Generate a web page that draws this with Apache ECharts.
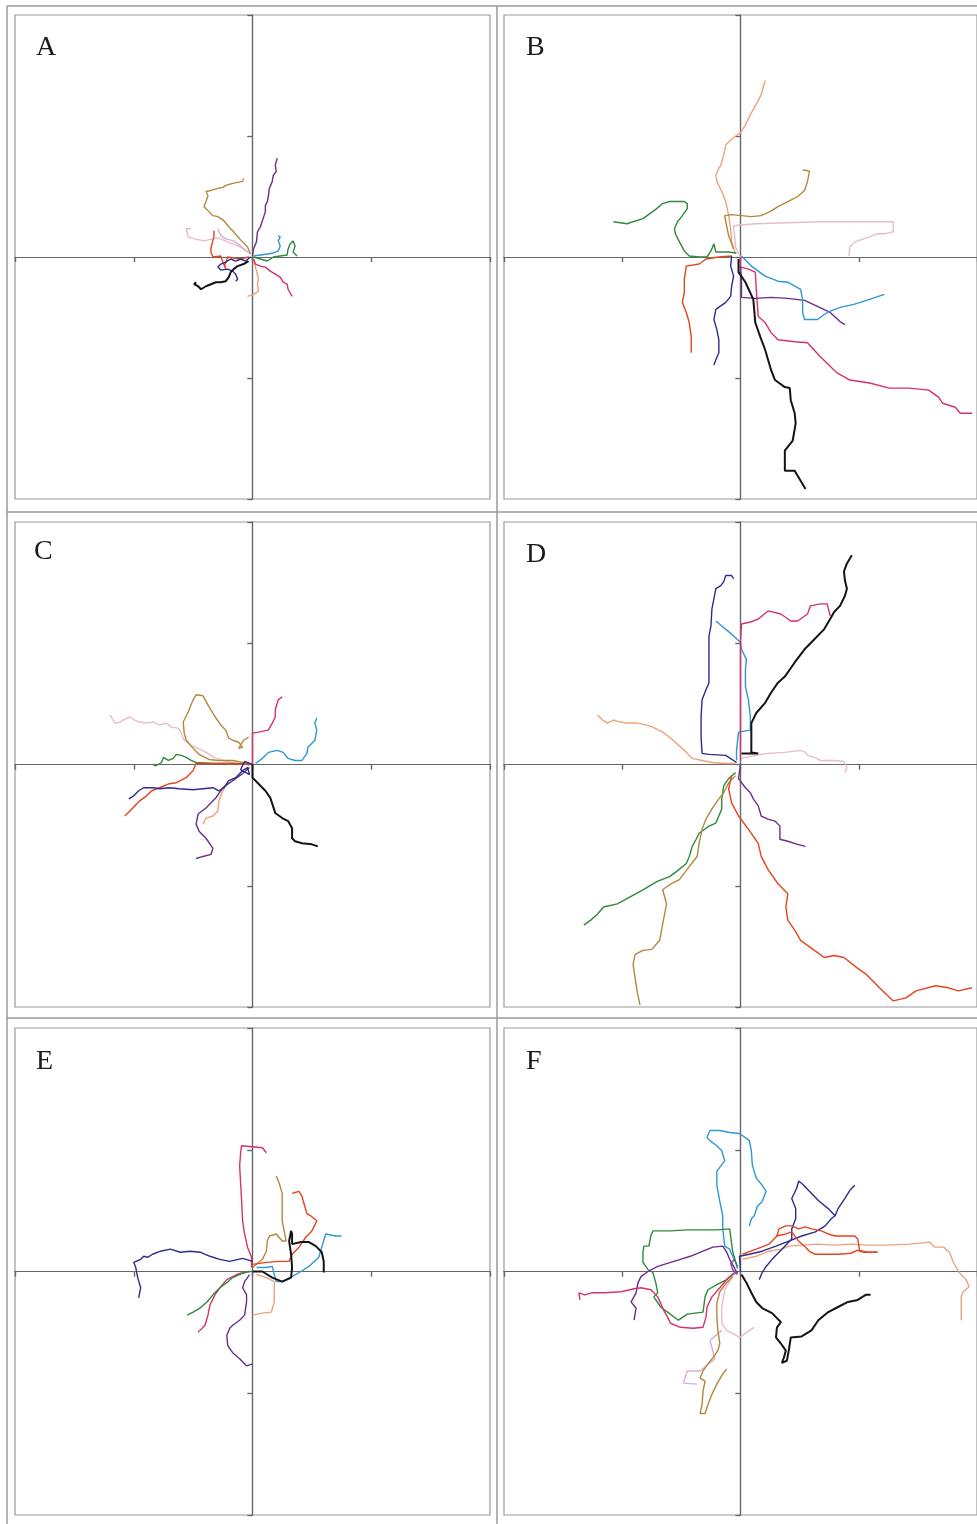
<!DOCTYPE html>
<html>
<head>
<meta charset="utf-8">
<script src="https://cdn.jsdelivr.net/npm/echarts@6/dist/echarts.min.js"></script>
<style>
html,body{margin:0;padding:0;background:#fff;}
#chart{width:977px;height:1524px;}
</style>
</head>
<body>
<div id="chart"></div>
<script>
// ---- Panel labels ----
const panelLabels = ['A', 'B', 'C', 'D', 'E', 'F'];
// axis range (same reading units on both axes), ticks every 120
const axisMin = -240, axisMax = 240, axisStep = 120;

// ---- Panel A tracks ----
const A_tan = [[-2,3],[-5,10],[-10,15],[-15,20],[-19,25],[-24,30],[-29,36],[-35,40],[-40,41],[-45,46],[-49,50],[-47,55],[-45,61],[-47,65],[-42,66],[-35,68],[-30,69],[-27,71],[-20,73],[-15,74],[-10,75],[-9,78]];
const A_purple = [[0,1],[1,8],[4,15],[5,25],[8,30],[10,36],[13,45],[13,51],[15,55],[16,60],[17,68],[20,75],[21,81],[24,85],[23,91],[25,98]];
const A_pink = [[-62,28],[-67,28],[-65,20],[-59,18],[-49,16],[-40,18],[-35,19],[-25,15],[-15,11],[-9,8],[-2,3]];
const A_lavender = [[-35,28],[-32,21],[-27,18],[-19,16],[-12,11],[-5,5]];
const A_red = [[-4,0],[-12,-2],[-19,-1],[-25,0],[-28,-8],[-27,-12],[-30,-5],[-32,1],[-40,0],[-42,5],[-42,8],[-41,13],[-39,20],[-39,26]];
const A_navy = [[-2,0],[-7,-4],[-12,-2],[-17,-4],[-22,-2],[-27,-5],[-32,-7],[-35,-10],[-32,-13],[-25,-12],[-20,-14],[-17,-17],[-15,-22],[-17,-24]];
const A_black = [[-4,-4],[-9,-7],[-15,-9],[-19,-12],[-22,-15],[-24,-20],[-27,-24],[-32,-25],[-37,-25],[-42,-27],[-47,-29],[-52,-32],[-55,-29],[-59,-27],[-57,-25]];
const A_blue = [[1,1],[8,2],[15,3],[21,4],[26,6],[28,11],[26,16],[28,20],[26,21]];
const A_green = [[1,0],[8,-2],[15,-4],[21,0],[28,1],[35,2],[36,8],[38,13],[41,16],[43,11],[41,5],[45,1]];
const A_magenta = [[1,-2],[3,-7],[8,-9],[13,-10],[18,-14],[23,-17],[28,-20],[31,-25],[35,-27],[36,-32],[40,-39]];
const A_peach = [[1,-4],[3,-10],[5,-17],[6,-22],[5,-27],[6,-34],[1,-37],[-5,-39]];

// ---- Panel B tracks ----
const B_peach = [[-5,3],[-9,15],[-10,28],[-12,41],[-15,55],[-19,65],[-24,75],[-25,81],[-22,88],[-20,91],[-17,101],[-15,111],[-10,116],[-5,120],[0,123],[5,131],[11,143],[18,155],[21,161],[25,175]];
const B_tan = [[-7,8],[-12,21],[-15,35],[-16,41],[-9,42],[1,41],[11,40],[21,41],[30,45],[38,50],[48,55],[58,60],[65,66],[68,75],[70,85],[66,86],[63,86]];
const B_pink = [[0,0],[-5,10],[-7,31],[15,33],[48,34],[81,35],[115,35],[138,35],[155,35],[155,25],[146,23],[138,23],[131,20],[125,18],[116,15],[111,10],[110,1]];
const B_green = [[-4,4],[-12,5],[-19,5],[-25,5],[-27,13],[-30,6],[-34,0],[-42,0],[-52,1],[-57,6],[-62,15],[-66,23],[-67,28],[-64,35],[-59,41],[-54,48],[-54,53],[-57,55],[-64,55],[-72,55],[-79,53],[-85,48],[-92,43],[-99,38],[-109,35],[-115,33],[-122,34],[-129,35]];
const B_red = [[-9,1],[-22,0],[-35,-2],[-42,-7],[-55,-9],[-57,-22],[-57,-35],[-59,-45],[-55,-55],[-52,-65],[-50,-79],[-50,-95]];
const B_navy = [[-9,1],[-10,-9],[-7,-19],[-9,-29],[-10,-39],[-15,-45],[-25,-52],[-27,-62],[-24,-72],[-22,-82],[-22,-95],[-25,-102],[-27,-107]];
const B_black = [[-2,-2],[-2,-15],[5,-25],[13,-42],[15,-65],[20,-79],[25,-92],[31,-112],[35,-122],[45,-129],[50,-130],[51,-142],[55,-155],[56,-165],[53,-182],[45,-192],[45,-212],[55,-212],[61,-222],[66,-230]];
const B_magenta = [[0,0],[0,-10],[8,-12],[15,-15],[16,-32],[18,-59],[25,-65],[31,-75],[38,-82],[55,-84],[68,-85],[81,-99],[98,-115],[111,-122],[131,-125],[151,-130],[171,-130],[191,-132],[201,-139],[205,-145],[218,-149],[223,-155],[235,-155]];
const B_purple = [[0,-9],[1,-25],[1,-40],[15,-41],[31,-40],[48,-41],[65,-43],[78,-49],[91,-55],[101,-64],[106,-67]];
const B_blue = [[1,1],[11,-9],[25,-19],[38,-24],[48,-25],[61,-32],[63,-42],[63,-55],[65,-62],[78,-62],[88,-55],[101,-50],[115,-47],[131,-42],[146,-37]];

// ---- Panel C tracks ----
const C_pink = [[-144,49],[-139,41],[-134,42],[-129,45],[-124,47],[-119,44],[-114,42],[-107,41],[-100,42],[-94,39],[-87,41],[-82,37],[-75,36],[-72,31],[-69,24],[-62,19],[-55,16],[-47,12],[-39,7],[-30,4],[-17,1],[-5,1]];
const C_tan = [[-4,1],[-10,2],[-20,4],[-34,4],[-44,5],[-54,10],[-60,16],[-67,24],[-69,31],[-70,42],[-65,52],[-60,64],[-57,69],[-50,68],[-45,59],[-39,49],[-32,39],[-27,34],[-24,26],[-20,24],[-14,22],[-10,17],[-14,16],[-9,24],[-4,27]];
const C_magenta = [[0,1],[0,17],[0,31],[6,32],[16,34],[20,41],[23,47],[23,54],[25,61],[26,64],[30,67]];
const C_blue = [[3,1],[10,6],[16,12],[25,14],[31,12],[36,6],[43,4],[50,4],[55,11],[56,17],[63,24],[65,34],[63,41],[65,46]];
const C_green = [[-3,0],[-17,1],[-40,1],[-57,2],[-62,4],[-67,7],[-72,9],[-77,10],[-80,6],[-85,4],[-90,7],[-92,2],[-97,-1],[-100,-1]];
const C_red = [[-3,0],[-30,1],[-57,1],[-60,-6],[-67,-13],[-77,-18],[-84,-19],[-94,-23],[-102,-26],[-107,-31],[-114,-36],[-119,-41],[-124,-46],[-129,-51]];
const C_navy = [[0,0],[-8,3],[-12,-5],[-3,-10],[-5,-3],[-10,-6],[-17,-13],[-24,-16],[-29,-23],[-34,-26],[-40,-23],[-50,-24],[-60,-25],[-74,-24],[-84,-23],[-94,-24],[-100,-23],[-110,-23],[-115,-26],[-120,-31],[-125,-34]];
const C_purple = [[-3,-3],[-10,-9],[-20,-16],[-30,-23],[-37,-33],[-47,-43],[-55,-49],[-57,-59],[-54,-66],[-47,-73],[-40,-83],[-42,-89],[-50,-91],[-57,-93]];
const C_peach = [[-24,-16],[-30,-26],[-34,-36],[-35,-46],[-40,-51],[-47,-53],[-50,-59]];
const C_black = [[0,0],[0,-13],[6,-19],[13,-26],[18,-33],[20,-39],[23,-48],[30,-53],[36,-56],[40,-63],[40,-73],[43,-76],[50,-78],[60,-79],[66,-81]];

// ---- Panel D tracks ----
const D_navy = [[-4,2],[-15,9],[-32,10],[-39,11],[-40,27],[-40,47],[-39,64],[-35,74],[-32,81],[-32,97],[-32,114],[-32,127],[-30,137],[-29,154],[-27,164],[-25,174],[-20,177],[-17,181],[-15,187],[-9,187],[-7,184]];
const D_blue = [[-4,4],[-4,14],[-2,32],[10,34],[10,47],[8,64],[5,77],[5,94],[6,104],[1,114],[0,121],[-9,129],[-19,137],[-25,142]];
const D_magenta = [[0,4],[0,47],[0,81],[0,107],[0,121],[1,139],[10,141],[18,144],[28,152],[41,149],[51,142],[58,142],[68,149],[71,157],[81,159],[88,159],[91,147]];
const D_black = [[1,11],[18,11],[11,12],[11,27],[11,41],[16,51],[25,61],[31,71],[38,81],[45,87],[55,101],[65,114],[75,124],[85,134],[91,144],[95,151],[101,157],[106,167],[108,174],[106,182],[105,191],[108,199],[113,207]];
const D_peach = [[-145,49],[-140,44],[-135,41],[-129,44],[-122,42],[-115,41],[-105,41],[-95,39],[-89,37],[-79,32],[-72,27],[-65,21],[-57,14],[-49,6],[-39,4],[-29,2],[-15,1],[-5,1]];
const D_pink = [[1,6],[15,9],[28,11],[45,12],[61,14],[66,12],[68,9],[75,7],[81,4],[95,4],[105,3],[108,-3],[106,-8]];
const D_green = [[-5,-8],[-12,-14],[-17,-21],[-19,-34],[-19,-44],[-25,-58],[-32,-61],[-42,-68],[-45,-74],[-49,-81],[-52,-91],[-55,-98],[-65,-106],[-72,-111],[-85,-116],[-99,-124],[-112,-131],[-125,-138],[-139,-141],[-145,-148],[-152,-154],[-159,-159]];
const D_tan = [[-5,-11],[-12,-18],[-17,-28],[-22,-34],[-29,-44],[-35,-54],[-39,-64],[-42,-78],[-44,-91],[-52,-101],[-62,-114],[-72,-119],[-79,-124],[-75,-138],[-79,-158],[-82,-174],[-90,-183],[-99,-184],[-107,-188],[-109,-198],[-107,-211],[-105,-224],[-102,-238]];
const D_red = [[-9,-11],[-12,-24],[-9,-38],[-2,-51],[8,-64],[18,-78],[21,-91],[28,-104],[38,-118],[48,-128],[46,-141],[48,-154],[55,-164],[61,-174],[75,-184],[85,-191],[95,-189],[105,-191],[118,-201],[128,-208],[141,-221],[155,-234],[168,-231],[178,-224],[198,-219],[211,-221],[221,-224],[235,-221]];
const D_purple = [[0,0],[-2,-14],[5,-23],[10,-28],[13,-34],[18,-41],[21,-51],[28,-54],[35,-56],[40,-61],[40,-74],[48,-76],[58,-79],[66,-81]];

// ---- Panel E tracks ----
const E_magenta = [[-1,4],[-1,14],[-5,24],[-8,37],[-10,50],[-11,70],[-12,87],[-13,104],[-12,117],[-11,124],[0,123],[10,122],[14,117]];
const E_pink = [[-6,0],[-16,-3],[-26,-8],[-33,-16],[-38,-23],[-43,-33],[-45,-43],[-48,-53],[-55,-60]];
const E_navy = [[0,10],[-10,13],[-23,10],[-33,12],[-43,15],[-53,19],[-63,20],[-73,19],[-83,22],[-93,20],[-101,17],[-106,14],[-110,15],[-113,12],[-120,9],[-118,4],[-116,-6],[-113,-16],[-115,-26]];
const E_tan = [[0,4],[10,12],[14,20],[15,30],[17,35],[24,37],[30,30],[34,30],[32,40],[30,50],[30,64],[30,77],[27,87],[24,94]];
const E_red = [[0,7],[14,9],[27,10],[37,10],[40,17],[47,24],[54,34],[60,40],[65,50],[60,54],[55,57],[52,67],[50,74],[47,79],[40,77]];
const E_black = [[0,0],[10,0],[20,-6],[30,-10],[39,-6],[40,4],[39,17],[37,30],[39,40],[40,37],[40,27],[49,29],[57,29],[64,25],[70,19],[72,10],[72,-1]];
const E_blue = [[4,4],[14,4],[20,5],[22,-3],[24,-10],[30,-10],[40,-5],[49,0],[57,5],[67,14],[70,24],[74,37],[84,35],[90,35]];
const E_green = [[-3,0],[-11,-2],[-20,-6],[-26,-11],[-33,-16],[-40,-23],[-46,-30],[-53,-36],[-60,-40],[-66,-43]];
const E_purple = [[-3,-3],[-8,-10],[-10,-16],[-6,-23],[-6,-30],[-8,-43],[-13,-48],[-20,-53],[-23,-56],[-26,-63],[-25,-73],[-20,-80],[-13,-86],[-6,-93],[0,-91]];
const E_peach = [[4,-3],[14,-6],[22,-10],[22,-20],[22,-30],[19,-40],[10,-41],[0,-43]];

// ---- Panel F tracks ----
const F_blue = [[-3,5],[-8,15],[-11,22],[-16,25],[-18,42],[-18,55],[-21,69],[-24,85],[-24,99],[-16,109],[-19,119],[-24,124],[-31,129],[-34,132],[-31,139],[-21,139],[-11,137],[-1,136],[9,129],[11,119],[12,105],[16,92],[22,85],[26,79],[22,69],[17,64],[14,55],[11,52],[9,45]];
const F_green = [[-3,3],[-8,20],[-11,42],[-24,41],[-38,41],[-54,41],[-71,40],[-89,40],[-91,35],[-93,25],[-98,25],[-99,19],[-99,9],[-94,2],[-89,-1],[-86,-11],[-84,-21],[-88,-25],[-81,-35],[-74,-40],[-63,-48],[-54,-42],[-38,-40],[-36,-25],[-33,-18],[-24,-13],[-14,-8],[-6,-1]];
const F_purple = [[-3,-2],[-11,12],[-14,19],[-18,25],[-28,24],[-38,20],[-51,15],[-61,12],[-71,9],[-84,5],[-94,0],[-101,-5],[-104,-11],[-106,-21],[-111,-30],[-106,-36],[-108,-48]];
const F_magenta = [[-163,-28],[-164,-21],[-158,-23],[-151,-21],[-138,-21],[-121,-20],[-108,-17],[-101,-16],[-91,-18],[-84,-25],[-78,-38],[-74,-45],[-71,-51],[-61,-55],[-48,-56],[-38,-55],[-35,-45],[-34,-35],[-29,-25],[-21,-16],[-11,-5],[-4,-1]];
const F_navy = [[0,0],[-1,15],[9,17],[22,20],[36,25],[49,30],[62,35],[76,39],[86,45],[92,52],[96,55],[99,62],[106,72],[111,80],[116,85]];
const F_navy2 = [[96,55],[89,62],[79,70],[69,80],[62,87],[59,89],[57,82],[52,72],[56,62],[56,52],[52,42],[52,32],[42,22],[32,12],[26,5],[22,-1],[19,-8]];
const F_red = [[2,17],[16,22],[29,27],[37,35],[39,42],[46,45],[52,45],[59,42],[66,44],[72,42],[82,40],[89,37],[96,35],[106,35],[116,35],[119,32],[121,20],[126,19],[139,19]];
const F_red2 = [[36,35],[46,37],[52,39],[59,30],[66,24],[71,19],[76,17],[86,17],[99,17],[112,18],[119,21],[129,19],[139,19]];
const F_peach = [[2,12],[16,15],[29,20],[42,22],[49,25],[62,26],[79,27],[96,26],[112,27],[129,26],[149,26],[172,27],[192,29],[197,24],[206,24],[212,19],[216,9],[222,-1],[229,-8],[232,-15],[226,-20],[224,-25],[224,-48]];
const F_black = [[1,-3],[6,-11],[11,-21],[16,-30],[22,-36],[32,-41],[37,-46],[41,-50],[37,-55],[36,-65],[41,-71],[46,-78],[44,-85],[42,-90],[47,-88],[49,-78],[51,-65],[62,-64],[72,-58],[79,-48],[89,-40],[99,-35],[109,-30],[119,-28],[127,-23],[132,-23]];
const F_tan = [[-8,-5],[-14,-11],[-21,-20],[-24,-31],[-24,-45],[-23,-58],[-21,-71],[-23,-78],[-28,-85],[-33,-91],[-38,-98],[-41,-105],[-36,-108],[-38,-118],[-39,-131],[-41,-140],[-36,-140],[-33,-131],[-29,-121],[-24,-111],[-18,-101],[-14,-96]];
const F_pink = [[-8,-5],[-16,-18],[-19,-35],[-19,-51],[-14,-58],[-8,-61],[-1,-65],[6,-60],[14,-55]];
const F_lavender = [[-19,-58],[-31,-68],[-26,-86],[-41,-98],[-54,-98],[-58,-110],[-44,-111]];
const F_violet = [[-3,-3],[-8,2],[-10,8],[-6,12]];

// ---- styling (kept separate from the data) ----
const COLORS = {
  tan:'#b4883c', purple:'#6a2d8e', pink:'#e6bccb', lavender:'#d8aed6', red:'#e4441f',
  navy:'#2c2c8e', black:'#141414', blue:'#2e97d4', green:'#2e8a3c', magenta:'#d6316c',
  peach:'#eea27b', violet:'#8a3fa8'
};
const panelTracks = [
  [[A_pink,'pink'],[A_lavender,'lavender'],[A_peach,'peach'],[A_tan,'tan'],[A_purple,'purple'],[A_red,'red'],[A_navy,'navy'],[A_blue,'blue'],[A_green,'green'],[A_magenta,'magenta'],[A_black,'black']],
  [[B_pink,'pink'],[B_peach,'peach'],[B_tan,'tan'],[B_green,'green'],[B_red,'red'],[B_navy,'navy'],[B_magenta,'magenta'],[B_purple,'purple'],[B_blue,'blue'],[B_black,'black']],
  [[C_pink,'pink'],[C_peach,'peach'],[C_tan,'tan'],[C_magenta,'magenta'],[C_blue,'blue'],[C_green,'green'],[C_red,'red'],[C_purple,'purple'],[C_navy,'navy'],[C_black,'black']],
  [[D_pink,'pink'],[D_peach,'peach'],[D_navy,'navy'],[D_blue,'blue'],[D_magenta,'magenta'],[D_green,'green'],[D_tan,'tan'],[D_red,'red'],[D_purple,'purple'],[D_black,'black']],
  [[E_peach,'peach'],[E_magenta,'magenta'],[E_pink,'magenta'],[E_navy,'navy'],[E_tan,'tan'],[E_red,'red'],[E_blue,'blue'],[E_green,'green'],[E_purple,'purple'],[E_black,'black']],
  [[F_pink,'pink'],[F_lavender,'lavender'],[F_peach,'peach'],[F_blue,'blue'],[F_green,'green'],[F_purple,'purple'],[F_magenta,'magenta'],[F_navy,'navy'],[F_navy2,'navy'],[F_red,'red'],[F_red2,'red'],[F_tan,'tan'],[F_violet,'violet'],[F_black,'black']]
];
// panel boxes: [left, top, width, height]
const boxes = [
  [15, 15, 475, 484], [504, 15, 475, 484],
  [15, 522, 475, 485], [504, 522, 475, 485],
  [15, 1028, 475, 487], [504, 1028, 475, 487]
];
// label anchor (top-left of text)
const labelPos = [[36,34],[526,34],[34,538],[526,541],[36,1048],[526,1048]];

const grid = [], xAxis = [], yAxis = [], series = [], graphic = [];
const AXIS_COLOR = '#666666';
boxes.forEach((b, i) => {
  grid.push({left:b[0], top:b[1], width:b[2], height:b[3], show:true, borderColor:'#9a9a9a', borderWidth:1.2, backgroundColor:'#fff'});
  [false, true].forEach((inside, k) => {
    const common = {
      gridIndex:i, type:'value', min:axisMin, max:axisMax, interval:axisStep,
      axisLabel:{show:false}, splitLine:{show:false},
      axisTick:{show:true, inside:inside, length:5, lineStyle:{color:AXIS_COLOR, width:1.2}}
    };
    xAxis.push(Object.assign({}, common, {axisLine:{show:true, onZero:true, onZeroAxisIndex:2*i+k, lineStyle:{color:AXIS_COLOR, width:1.2}}}));
    yAxis.push(Object.assign({}, common, {axisLine:{show:true, onZero:true, onZeroAxisIndex:2*i+k, lineStyle:{color:AXIS_COLOR, width:1.2}}}));
  });
  panelTracks[i].forEach(([data, c]) => {
    series.push({
      type:'line', xAxisIndex:2*i, yAxisIndex:2*i, data:data, showSymbol:false, symbol:'none',
      silent:true, animation:false, clip:true,
      lineStyle:{color:COLORS[c], width: c === 'black' ? 2 : 1.4}
    });
  });
  graphic.push({type:'text', x:labelPos[i][0], y:labelPos[i][1], z:10,
    style:{text:panelLabels[i], font:'28px "Liberation Serif", "DejaVu Serif", serif', fill:'#1a1a1a', verticalAlign:'top', align:'left'}});
});
// outer frame and dividers
const frameLines = [[7,6,977,6],[7,6,7,1524],[497,6,497,1524],[7,512,977,512],[7,1018,977,1018]];
frameLines.forEach(l => graphic.push({type:'line', z:0, shape:{x1:l[0], y1:l[1], x2:l[2], y2:l[3]}, style:{stroke:'#9a9a9a', lineWidth:1.5}}));

const chart = echarts.init(document.getElementById('chart'), null, {renderer:'canvas'});
chart.setOption({backgroundColor:'#ffffff', animation:false, grid, xAxis, yAxis, series, graphic});
</script>
</body>
</html>
